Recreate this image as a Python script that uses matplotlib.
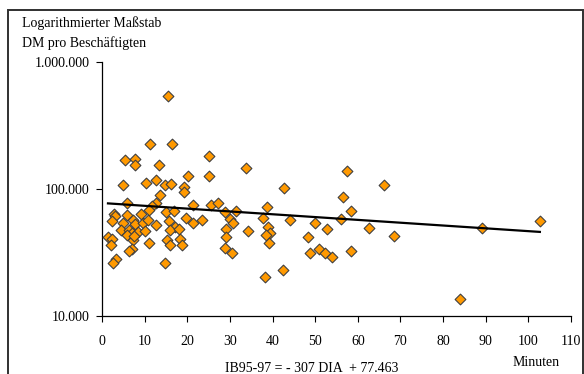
import numpy as np
import matplotlib.pyplot as plt
from matplotlib.patches import Rectangle
from matplotlib.ticker import FixedLocator, NullLocator

# minutes (DIA) and DM per employee (IB95-97)
minuten = [15.4, 11.3, 16.5, 5.4, 7.7, 7.7, 13.3, 25.1, 20.1, 25.1, 33.8,
           4.9, 10.4, 12.7, 14.7, 16.3, 19.2, 19.2, 13.6,
           5.9, 12.7, 11.7, 11.1, 21.4, 25.5, 27.1, 38.6,
           9.2, 15.0, 16.9, 19.7, 28.9, 31.4, 37.7,
           2.7, 3.1, 5.8, 2.3, 5.0, 7.3, 7.8, 9.7, 10.8, 12.7, 15.6, 17.2, 21.3, 23.5, 30.0, 30.8,
           4.5, 6.3, 7.0, 8.4, 10.2, 15.9, 18.0, 29.2, 34.3, 38.9, 39.4, 38.5,
           1.4, 2.3, 5.8, 7.3, 7.5, 11.0, 15.3, 18.3, 29.2, 39.2,
           2.2, 7.0, 6.4, 15.9, 18.8, 28.9, 30.6,
           3.3, 2.5, 14.7,
           57.4, 42.8, 66.1, 56.6, 44.2, 49.9, 56.1, 58.5, 52.8, 62.7, 48.3, 48.8,
           50.9, 52.4, 53.9, 58.5, 42.4, 38.3, 68.6, 89.2, 102.7, 84.0]
dm = [540, 225, 225, 168, 172, 154, 154, 181, 127, 127, 146,
      107, 112, 118, 107, 110, 103, 95, 89,
      78, 77, 73, 68, 75, 74.5, 78, 71.7,
      63, 66, 66.7, 59.5, 66, 66.7, 59,
      64, 61, 62.5, 56, 54, 57, 53, 54, 57, 52.5, 55.7, 50, 53.7, 57, 57.7, 54,
      47.6, 47.6, 44.8, 45.8, 47, 47.6, 48.6, 48.6, 46.5, 50.5, 44.8, 43.2,
      41.7, 40.6, 43.2, 39.7, 43, 37.4, 40, 40.6, 42, 37.8,
      36, 33.9, 32.3, 36, 36.5, 34.3, 31.2,
      28.3, 26.3, 26.3,
      139, 102, 107, 87, 57, 54, 58, 66.7, 48.6, 49.4, 41.7, 31.2,
      33.9, 31.2, 29.3, 32.7, 23, 20.4, 42.4, 49.6, 56, 13.7]
dm = np.array(dm) * 1000

# linear trend: IB95-97 = -307 DIA + 77.463
steigung = -307
achse = 77463

x_ticks = [0, 10, 20, 30, 40, 50, 60, 70, 80, 90, 100, 110]
y_ticks = [1e4, 1e5, 1e6]
y_labels = ['10.000', '100.000', '1.000.000']

plt.rcParams['font.family'] = ['Liberation Serif', 'DejaVu Serif']

fig = plt.figure(figsize=(5.84, 3.74), dpi=100)
ax = fig.add_axes([102 / 584, 1 - 316 / 374, 469 / 584, 254 / 374])

ax.scatter(minuten, dm, marker='D', s=30, color='#ff9900', edgecolor='#404040',
           linewidth=0.8, zorder=3)

fit_x = np.array([min(minuten), max(minuten)])
ax.plot(fit_x, steigung * fit_x + achse, 'k-', linewidth=1.6, zorder=4)

ax.set_yscale('log')
ax.set_xlim(0, 110)
ax.set_ylim(1e4, 1e6)
ax.set_xticks(x_ticks)
ax.xaxis.set_ticklabels([str(t) for t in x_ticks])
ax.yaxis.set_major_locator(FixedLocator(y_ticks))
ax.yaxis.set_minor_locator(NullLocator())
ax.set_yticklabels(y_labels)
ax.tick_params(axis='both', direction='out', length=4, width=0.8, labelsize=10,
               colors='black')
ax.tick_params(axis='y', pad=5)
ax.tick_params(axis='x', pad=10)

for s in ['top', 'right']:
    ax.spines[s].set_visible(False)
for s in ['left', 'bottom']:
    ax.spines[s].set_linewidth(0.9)

fig.text(22 / 584, 1 - 23 / 374, 'Logarithmierter Maßstab', fontsize=10, va='center')
fig.text(22 / 584, 1 - 43 / 374, 'DM pro Beschäftigten', fontsize=10, va='center')
fig.text(312 / 584, 1 - 368 / 374, 'IB95-97 = - 307 DIA  + 77.463', fontsize=10,
         ha='center', va='center')
fig.text(536 / 584, 1 - 363 / 374, 'Minuten', fontsize=10, ha='center', va='center')

# frame round the chart
fig.patches.append(Rectangle((8 / 584, -0.1), 575 / 584, 1.1 - 10 / 374,
                             transform=fig.transFigure, fill=False,
                             edgecolor='#303030', linewidth=1.4))

plt.savefig('out.png', dpi=100)
